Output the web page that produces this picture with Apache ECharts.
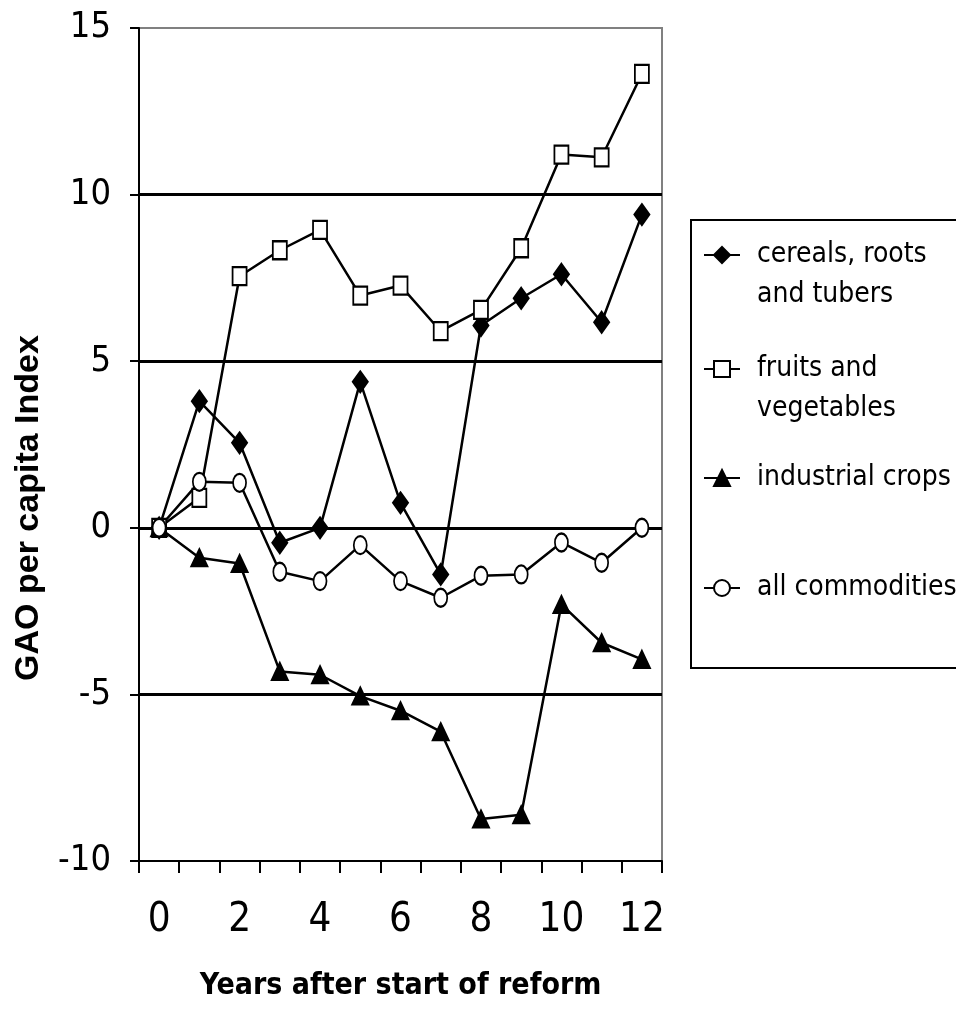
<!DOCTYPE html>
<html>
<head>
<meta charset="utf-8">
<script src="https://cdn.jsdelivr.net/npm/echarts@6/dist/echarts.min.js"></script>
<style>
html,body{margin:0;padding:0;background:#fff;}
#chart{width:956px;height:1024px;}
</style>
</head>
<body>
<div id="chart"></div>
<script>
const years = ['0','1','2','3','4','5','6','7','8','9','10','11','12'];
const seriesNames = ['cereals, roots and tubers','fruits and vegetables','industrial crops','all commodities'];
const legendFirstLines = ['cereals, roots','fruits and','industrial crops','all commodities'];
const legendSecondLines = ['and tubers','vegetables','',''];
const cereals = [0, 3.8, 2.55, -0.45, 0.0, 4.38, 0.75, -1.4, 6.07, 6.89, 7.61, 6.17, 9.4];
const fruits = [0, 0.9, 7.55, 8.33, 8.94, 6.97, 7.27, 5.9, 6.54, 8.39, 11.2, 11.12, 13.62];
const industrial = [0, -0.9, -1.07, -4.31, -4.41, -5.05, -5.49, -6.12, -8.74, -8.61, -2.3, -3.45, -3.95];
const allCommodities = [0, 1.38, 1.35, -1.32, -1.6, -0.52, -1.6, -2.1, -1.44, -1.4, -0.44, -1.05, 0];
const yTicks = [-10, -5, 0, 5, 10, 15];
const yTitle = 'GAO per capita Index';
const xTitle = 'Years after start of reform';

const narrow = "'Liberation Sans Narrow', 'DejaVu Sans Condensed', 'Liberation Sans', sans-serif";
const ellipse = 'path://M0,8a5,8 0 1,0 10,0a5,8 0 1,0 -10,0';

const chart = echarts.init(document.getElementById('chart'), null, {renderer: 'canvas'});

function mkSeries(name, data, symbol, size, fill) {
  return {
    name: name, type: 'line', data: data,
    symbol: symbol, symbolSize: size, showSymbol: true,
    lineStyle: {color: '#000', width: 2.5},
    itemStyle: {color: fill, borderColor: '#000', borderWidth: 2},
    emphasis: {disabled: true},
    animation: false
  };
}

const legendCenters = [252, 366, 475, 585];
const legends = seriesNames.map((n, i) => ({
  data: [n],
  left: 698, top: legendCenters[i] - 21, orient: 'vertical',
  itemWidth: 36, itemHeight: 20, itemGap: 0,
  formatter: () => legendFirstLines[i],
  textStyle: {fontFamily: narrow, fontSize: 28, color: '#000', lineHeight: 38, padding: [0, 0, 0, 12]},
  selectedMode: false
}));

const secondLineTexts = [];
legendSecondLines.forEach((t, i) => {
  if (t) secondLineTexts.push({type: 'text', x: 757, y: legendCenters[i] + 43, silent: true,
    style: {text: t, fontFamily: narrow, fontSize: 28, fill: '#000', align: 'left', verticalAlign: 'middle'}});
});

chart.setOption({
  animation: false,
  backgroundColor: '#fff',
  grid: {left: 139, right: 294, top: 28, bottom: 163, show: true, borderColor: '#808080', borderWidth: 2, containLabel: false},
  legend: legends,
  graphic: [
    {type: 'rect', shape: {x: 691, y: 220, width: 300, height: 448}, style: {fill: 'none', stroke: '#000', lineWidth: 2}, silent: true, z: 10},
    {type: 'text', x: 29, y: 508, rotation: Math.PI / 2, silent: true,
     style: {text: yTitle, fontFamily: "'Liberation Sans', Arial, sans-serif", fontWeight: 'bold', fontSize: 34, fill: '#000', align: 'center', verticalAlign: 'middle'}}
  ].concat(secondLineTexts),
  xAxis: {
    type: 'category', data: years, boundaryGap: true,
    name: xTitle, nameLocation: 'middle', nameGap: 110,
    nameTextStyle: {fontFamily: narrow, fontWeight: 'bold', fontSize: 30, color: '#000'},
    axisLine: {show: true, onZero: false, lineStyle: {color: '#000', width: 2}},
    axisTick: {show: true, interval: 0, length: 12, lineStyle: {color: '#000', width: 2}},
    axisLabel: {interval: 1, margin: 40, fontFamily: narrow, fontSize: 40, color: '#000'},
    splitLine: {show: false}
  },
  yAxis: {
    type: 'value', min: yTicks[0], max: yTicks[yTicks.length - 1], interval: 5,
    axisLine: {show: true, lineStyle: {color: '#000', width: 2}},
    axisTick: {show: true, length: 9, lineStyle: {color: '#000', width: 2}},
    axisLabel: {margin: 28, fontFamily: narrow, fontSize: 36, color: '#000'},
    splitLine: {show: true, showMinLine: false, showMaxLine: false, lineStyle: {color: '#000', width: 3}}
  },
  series: [
    mkSeries(seriesNames[0], cereals, 'diamond', [15, 21], '#000'),
    mkSeries(seriesNames[1], fruits, 'rect', [14, 18], '#fff'),
    mkSeries(seriesNames[2], industrial, 'triangle', [16, 17], '#000'),
    mkSeries(seriesNames[3], allCommodities, ellipse, [13, 18], '#fff')
  ]
});
</script>
</body>
</html>
